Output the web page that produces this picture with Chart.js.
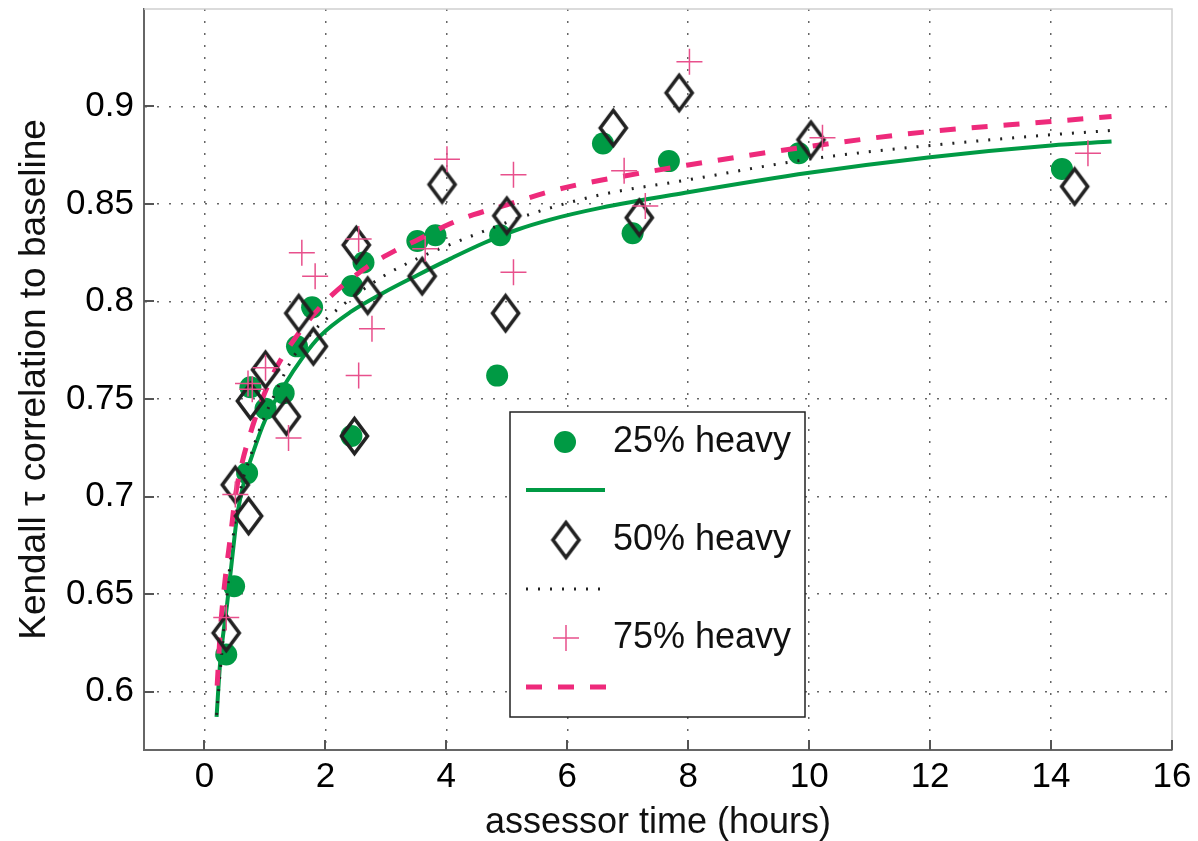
<!DOCTYPE html>
<html>
<head>
<meta charset="utf-8">
<script src="https://cdn.jsdelivr.net/npm/chart.js@4.4.1/dist/chart.umd.min.js"></script>
<style>
  html, body { margin: 0; padding: 0; background: #fff; }
  #wrap { width: 1198px; height: 841px; position: relative; }
</style>
</head>
<body>
<div id="wrap"><canvas id="chart"></canvas></div>
<script>
// axis ticks
const xTicks = [0, 2, 4, 6, 8, 10, 12, 14, 16];
const yTicks = [0.6, 0.65, 0.7, 0.75, 0.8, 0.85, 0.9];

// 25% heavy (circles)
const heavy25X = [0.36, 0.49, 0.705, 0.76, 1.01, 1.31, 1.53, 1.78, 2.43, 2.44, 2.63, 3.52, 3.82, 4.84, 4.89, 6.59, 7.08, 7.68, 9.83, 14.18];
const heavy25Y = [0.619, 0.654, 0.712, 0.756, 0.745, 0.753, 0.777, 0.797, 0.731, 0.808, 0.820, 0.831, 0.834, 0.762, 0.834, 0.881, 0.835, 0.872, 0.876, 0.868];

// 50% heavy (diamonds)
const heavy50X = [0.36, 0.51, 0.73, 0.76, 1.01, 1.355, 1.56, 1.80, 2.48, 2.51, 2.70, 3.60, 3.93, 4.98, 5.00, 6.76, 7.19, 7.85, 10.03, 14.39];
const heavy50Y = [0.630, 0.706, 0.690, 0.749, 0.765, 0.741, 0.794, 0.777, 0.731, 0.829, 0.803, 0.813, 0.860, 0.794, 0.844, 0.889, 0.843, 0.907, 0.883, 0.859];

// 75% heavy (crosses)
const heavy75X = [0.36, 0.51, 0.72, 0.79, 1.01, 1.39, 1.61, 1.83, 2.55, 2.55, 2.77, 3.65, 4.01, 5.11, 5.11, 6.94, 7.29, 8.02, 10.22, 14.61];
const heavy75Y = [0.638, 0.701, 0.758, 0.755, 0.766, 0.730, 0.825, 0.813, 0.832, 0.762, 0.786, 0.827, 0.873, 0.865, 0.815, 0.867, 0.849, 0.923, 0.884, 0.876];

// fitted curves
const fit25X = [0.2, 0.26, 0.375, 0.46, 0.54, 0.65, 0.82, 1.0, 1.3, 1.64, 1.92, 2.41, 2.96, 3.52, 4.07, 4.62, 5.17, 5.72, 6.55, 8, 10, 12, 14, 15];
const fit25Y = [0.587, 0.615, 0.645, 0.669, 0.690, 0.707, 0.724, 0.739, 0.756, 0.772, 0.7825, 0.7945, 0.8045, 0.8135, 0.822, 0.830, 0.8368, 0.842, 0.848, 0.856, 0.866, 0.874, 0.880, 0.882];

const fit50X = [0.2, 0.29, 0.46, 0.6, 0.76, 0.93, 1.2, 1.48, 1.75, 2.30, 2.96, 3.52, 4.19, 5.44, 6.55, 8, 10, 12, 14, 15];
const fit50Y = [0.588, 0.621, 0.676, 0.704, 0.7205, 0.736, 0.755, 0.772, 0.783, 0.7985, 0.813, 0.822, 0.8308, 0.8453, 0.8547, 0.8624, 0.873, 0.880, 0.8855, 0.8877];

const fit75X = [0.21, 0.264, 0.347, 0.43, 0.51, 0.62, 0.76, 0.95, 1.2, 1.53, 1.81, 2.11, 2.69, 3.18, 3.52, 4.07, 4.45, 5.0, 5.62, 6.16, 6.7, 8, 10, 12, 14, 15];
const fit75Y = [0.603, 0.632, 0.659, 0.6795, 0.700, 0.717, 0.7325, 0.7496, 0.7667, 0.7825, 0.7935, 0.8034, 0.8177, 0.8265, 0.8316, 0.840, 0.8445, 0.8496, 0.8556, 0.8598, 0.863, 0.870, 0.8795, 0.8872, 0.8923, 0.8949];

const seriesLabels = ['25% heavy', '50% heavy', '75% heavy'];

const GREEN = '#009a44';
const PINK = '#ee2a7b';
const PINK_MARK = '#e8508c';
const DARK = '#222';
const FONT = "'Liberation Sans', Arial, Helvetica, sans-serif";

function toPoints(xs, ys) {
  return xs.map((x, i) => ({ x, y: ys[i] }));
}

function makeDiamond(w, h, lw, color) {
  const c = document.createElement('canvas');
  c.width = w + lw * 2;
  c.height = h + lw * 2;
  const ctx = c.getContext('2d');
  const cx = c.width / 2, cy = c.height / 2;
  ctx.strokeStyle = color;
  ctx.lineWidth = lw;
  ctx.beginPath();
  ctx.moveTo(cx, cy - h / 2);
  ctx.lineTo(cx + w / 2, cy);
  ctx.lineTo(cx, cy + h / 2);
  ctx.lineTo(cx - w / 2, cy);
  ctx.closePath();
  ctx.stroke();
  return c;
}

const diamond = makeDiamond(26, 35, 3.6, DARK);

// no extra room for half tick labels, the layout padding handles it
function noScalePadding(s) {
  s.paddingTop = 0;
  s.paddingBottom = 0;
  s.paddingLeft = 0;
  s.paddingRight = 0;
}

// box on top/right + inward tick marks (matlab style)
const framePlugin = {
  id: 'frame',
  afterDraw(chart) {
    const { ctx, chartArea: a, scales } = chart;
    ctx.save();
    ctx.strokeStyle = '#d0d0d0';
    ctx.lineWidth = 1.5;
    ctx.beginPath();
    ctx.moveTo(a.left, a.top);
    ctx.lineTo(a.right, a.top);
    ctx.lineTo(a.right, a.bottom);
    ctx.stroke();
    ctx.strokeStyle = '#555';
    ctx.lineWidth = 2;
    ctx.beginPath();
    yTicks.forEach(v => {
      const y = Math.round(scales.y.getPixelForValue(v));
      ctx.moveTo(a.left, y);
      ctx.lineTo(a.left + 10, y);
    });
    xTicks.forEach(v => {
      const x = Math.round(scales.x.getPixelForValue(v));
      ctx.moveTo(x, a.bottom);
      ctx.lineTo(x, a.bottom - 10);
    });
    ctx.stroke();
    ctx.restore();
  }
};

const legendPlugin = {
  id: 'boxLegend',
  afterDraw(chart) {
    const ctx = chart.ctx;
    const bx = 510, by = 412, bw = 295, bh = 305;
    const rows = [442, 540, 638];
    ctx.save();
    ctx.fillStyle = '#fff';
    ctx.fillRect(bx, by, bw, bh);
    ctx.strokeStyle = DARK;
    ctx.lineWidth = 1.5;
    ctx.strokeRect(bx, by, bw, bh);

    // markers
    ctx.fillStyle = GREEN;
    ctx.beginPath();
    ctx.arc(565, rows[0], 11, 0, Math.PI * 2);
    ctx.fill();
    ctx.drawImage(diamond, 566 - diamond.width / 2, rows[1] - diamond.height / 2);
    ctx.strokeStyle = PINK_MARK;
    ctx.lineWidth = 1.5;
    ctx.beginPath();
    ctx.moveTo(553, rows[2]); ctx.lineTo(579, rows[2]);
    ctx.moveTo(566, rows[2] - 13); ctx.lineTo(566, rows[2] + 13);
    ctx.stroke();

    // line samples
    ctx.lineWidth = 4;
    ctx.strokeStyle = GREEN;
    ctx.beginPath(); ctx.moveTo(526, 490); ctx.lineTo(605, 490); ctx.stroke();
    ctx.strokeStyle = DARK;
    ctx.lineWidth = 3;
    ctx.setLineDash([2, 10]);
    ctx.beginPath(); ctx.moveTo(526, 589); ctx.lineTo(605, 589); ctx.stroke();
    ctx.strokeStyle = PINK;
    ctx.lineWidth = 5;
    ctx.setLineDash([16, 16]);
    ctx.beginPath(); ctx.moveTo(526, 687); ctx.lineTo(606, 687); ctx.stroke();
    ctx.setLineDash([]);

    ctx.fillStyle = '#111';
    ctx.font = '36px ' + FONT;
    ctx.textBaseline = 'middle';
    ctx.textAlign = 'left';
    seriesLabels.forEach((t, i) => ctx.fillText(t, 613, rows[i]));
    ctx.restore();
  }
};

new Chart(document.getElementById('chart'), {
  type: 'scatter',
  data: {
    datasets: [
      {
        label: seriesLabels[2],
        data: toPoints(heavy75X, heavy75Y),
        pointStyle: 'cross',
        pointRadius: 13,
        borderColor: PINK_MARK,
        borderWidth: 1.5,
        order: 0
      },
      {
        label: seriesLabels[1],
        data: toPoints(heavy50X, heavy50Y),
        pointStyle: diamond,
        order: 1
      },
      {
        label: 'fit 75',
        data: toPoints(fit75X, fit75Y),
        showLine: true,
        pointRadius: 0,
        borderColor: PINK,
        borderWidth: 5,
        borderDash: [16, 16],
        cubicInterpolationMode: 'monotone',
        order: 2
      },
      {
        label: 'fit 50',
        data: toPoints(fit50X, fit50Y),
        showLine: true,
        pointRadius: 0,
        borderColor: DARK,
        borderWidth: 3,
        borderDash: [2, 10],
        cubicInterpolationMode: 'monotone',
        order: 3
      },
      {
        label: 'fit 25',
        data: toPoints(fit25X, fit25Y),
        showLine: true,
        pointRadius: 0,
        borderColor: GREEN,
        borderWidth: 4,
        cubicInterpolationMode: 'monotone',
        order: 4
      },
      {
        label: seriesLabels[0],
        data: toPoints(heavy25X, heavy25Y),
        pointStyle: 'circle',
        pointRadius: 11,
        backgroundColor: GREEN,
        borderWidth: 0,
        order: 5
      }
    ]
  },
  options: {
    responsive: true,
    maintainAspectRatio: false,
    animation: false,
    layout: { autoPadding: false, padding: { top: 9, right: 26, left: 0, bottom: 0 } },
    plugins: {
      legend: { display: false },
      tooltip: { enabled: false }
    },
    scales: {
      x: {
        type: 'linear',
        min: -1,
        max: 16,
        afterBuildTicks: s => { s.ticks = xTicks.map(v => ({ value: v })); },
        afterFit: s => {
          s.height = 91;
          noScalePadding(s);
        },
        grid: {
          color: c => (c.tick && c.tick.value === 16 ? 'rgba(0,0,0,0)' : '#666'),
          lineWidth: 1.5,
          drawTicks: false
        },
        border: { display: true, color: '#666', width: 2, dash: [2, 10] },
        ticks: {
          padding: 6,
          color: '#000',
          font: { size: 35, family: FONT },
          maxRotation: 0,
          callback: v => String(v)
        },
        title: {
          display: true,
          text: 'assessor time (hours)',
          color: '#111',
          font: { size: 36, family: FONT },
          padding: { top: 0, bottom: -4 }
        }
      },
      y: {
        type: 'linear',
        min: 0.57,
        max: 0.95,
        afterBuildTicks: s => { s.ticks = yTicks.map(v => ({ value: v })); },
        afterFit: s => {
          s.width = 144;
          noScalePadding(s);
        },
        grid: {
          color: '#666',
          lineWidth: 1.5,
          drawTicks: false
        },
        border: { display: true, color: '#666', width: 2, dash: [2, 10] },
        ticks: {
          padding: 10,
          color: '#000',
          font: { size: 35, family: FONT },
          callback: v => String(+v.toFixed(2))
        },
        title: {
          display: true,
          text: 'Kendall \u03c4 correlation to baseline',
          color: '#111',
          font: { size: 37, family: FONT },
          padding: { top: 13, bottom: 0 }
        }
      }
    }
  },
  plugins: [framePlugin, legendPlugin]
});
</script>
</body>
</html>
